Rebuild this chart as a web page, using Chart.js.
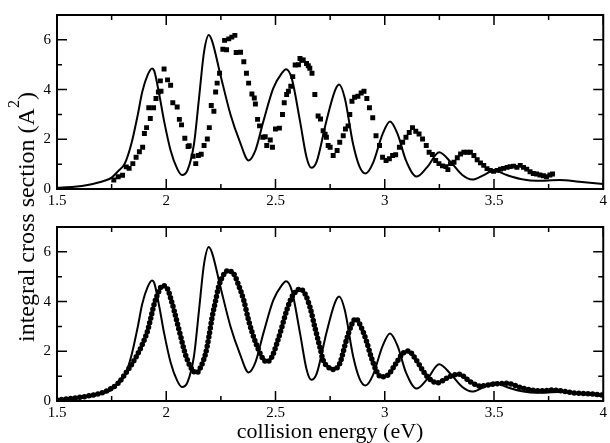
<!DOCTYPE html>
<html>
<head>
<meta charset="utf-8">
<script src="https://cdn.jsdelivr.net/npm/chart.js@4.4.1/dist/chart.umd.min.js"></script>
<style>
  html, body { margin: 0; padding: 0; background: #fff; }
  #wrap { position: relative; width: 610px; height: 443px; overflow: hidden; font-family: "Liberation Serif", "Times New Roman", serif; }
  #top { position: absolute; left: 0; top: 0; }
  #bottom { position: absolute; left: 0; top: 212px; }
  #ytitle { position: absolute; left: 26px; top: 217px; transform: translate(-50%, -50%) rotate(-90deg); white-space: nowrap; font-size: 24px; line-height: 24px; color: #000; }
  #ytitle sup { font-size: 16px; vertical-align: 15px; line-height: 0; }
</style>
</head>
<body>
<div id="wrap">
  <canvas id="top" width="610" height="212"></canvas>
  <canvas id="bottom" width="610" height="231"></canvas>
  <div id="ytitle">integral cross section (A<sup>2</sup>)</div>
</div>
<script>
// tick values
const xTicks = [1.5, 2, 2.5, 3, 3.5, 4];
const xMinor = [1.75, 2.25, 2.75, 3.25, 3.75];
const yTicks = [0, 2, 4, 6];
const yMinor = [1, 3, 5];

// solid curve (same in both panels)
const theoryE = [1.5, 1.58, 1.64, 1.72, 1.75, 1.78, 1.81, 1.84, 1.87, 1.89, 1.915, 1.935, 1.945, 1.968, 1.99,
  2.02, 2.05, 2.072, 2.097, 2.127, 2.15, 2.173, 2.195, 2.21, 2.248, 2.294, 2.335, 2.377, 2.408, 2.445,
  2.49, 2.529, 2.548, 2.574, 2.612, 2.642, 2.664, 2.688, 2.733, 2.771, 2.791, 2.817, 2.855, 2.885, 2.912,
  2.945, 2.99, 3.024, 3.059, 3.097, 3.145, 3.195, 3.249, 3.301, 3.355, 3.4, 3.453, 3.5, 3.559, 3.635,
  3.695, 3.8, 3.89, 4.0];
const theoryQ = [0.05, 0.09, 0.16, 0.34, 0.46, 0.72, 1.02, 1.81, 3.0, 3.9, 4.59, 4.85, 4.75, 3.8, 2.74,
  1.55, 0.82, 0.56, 0.75, 1.81, 3.66, 5.52, 6.2, 5.95, 4.59, 3.0, 1.95, 1.15, 1.55, 2.74,
  4.06, 4.66, 4.82, 4.46, 2.74, 1.28, 0.85, 1.09, 2.74, 3.93, 4.2, 3.66, 1.81, 0.89, 0.62,
  1.02, 2.21, 2.72, 2.21, 1.15, 0.5, 0.89, 1.48, 1.09, 0.56, 0.38, 0.56, 0.74, 0.56, 0.38,
  0.33, 0.36, 0.29, 0.2];

// squares, top panel
const expE = [1.76, 1.78, 1.8, 1.817, 1.83, 1.847, 1.862, 1.877, 1.892, 1.9, 1.91, 1.92, 1.927, 1.942, 1.953,
  1.964, 1.976, 1.973, 1.99, 2.006, 2.02, 2.03, 2.05, 2.06, 2.07, 2.085, 2.1, 2.105, 2.123, 2.135,
  2.147, 2.16, 2.173, 2.188, 2.197, 2.206, 2.218, 2.226, 2.233, 2.244, 2.259, 2.276, 2.267, 2.286, 2.3,
  2.314, 2.32, 2.34, 2.355, 2.367, 2.377, 2.392, 2.403, 2.408, 2.418, 2.427, 2.442, 2.453, 2.46, 2.476,
  2.486, 2.5, 2.518, 2.532, 2.54, 2.551, 2.559, 2.57, 2.579, 2.59, 2.605, 2.612, 2.62, 2.627, 2.642,
  2.65, 2.657, 2.667, 2.68, 2.695, 2.706, 2.718, 2.727, 2.733, 2.741, 2.75, 2.764, 2.782, 2.794, 2.81,
  2.82, 2.832, 2.84, 2.85, 2.862, 2.877, 2.892, 2.905, 2.918, 2.93, 2.945, 2.96, 2.976, 2.99, 3.006,
  3.021, 3.036, 3.05, 3.067, 3.082, 3.097, 3.112, 3.127, 3.142, 3.157, 3.173, 3.19, 3.203, 3.218, 3.233,
  3.248, 3.264, 3.28, 3.289, 3.301, 3.317, 3.332, 3.347, 3.362, 3.377, 3.392, 3.408, 3.423, 3.438, 3.453,
  3.468, 3.483, 3.498, 3.514, 3.53, 3.544, 3.56, 3.574, 3.59, 3.605, 3.62, 3.635, 3.65, 3.665, 3.68,
  3.695, 3.71, 3.726, 3.74, 3.756, 3.768];
const expQ = [0.36, 0.49, 0.55, 0.89, 0.83, 1.02, 1.28, 1.5, 1.68, 2.23, 2.47, 3.27, 2.84, 3.27, 3.64,
  3.9, 3.93, 4.35, 4.83, 4.39, 4.17, 3.47, 3.3, 2.8, 2.58, 2.04, 1.71, 1.74, 1.32, 1.02,
  1.35, 1.4, 1.75, 2.01, 2.47, 3.36, 3.13, 3.9, 4.26, 4.66, 5.62, 5.6, 5.98, 6.04, 6.11,
  6.18, 5.49, 5.5, 5.12, 4.66, 4.26, 3.82, 3.66, 3.42, 2.8, 2.54, 2.08, 2.1, 1.75, 1.97,
  1.68, 2.41, 2.45, 3.0, 3.47, 3.8, 3.93, 4.13, 4.52, 4.99, 5.0, 5.25, 5.18, 5.19, 5.05,
  4.96, 4.86, 4.66, 3.8, 2.94, 2.82, 2.34, 2.2, 2.08, 1.75, 1.68, 1.35, 1.55, 1.88, 2.14,
  2.41, 2.54, 3.0, 3.53, 3.69, 3.73, 3.86, 3.93, 3.64, 3.27, 2.87, 2.14, 1.75, 1.28, 1.15,
  1.22, 1.35, 1.38, 1.68, 1.88, 2.08, 2.27, 2.47, 2.32, 2.21, 2.01, 1.75, 1.48, 1.39, 1.15,
  1.02, 0.93, 0.9, 0.78, 1.02, 1.08, 1.26, 1.41, 1.48, 1.48, 1.48, 1.35, 1.18, 1.05, 0.95,
  0.82, 0.75, 0.71, 0.75, 0.8, 0.83, 0.87, 0.9, 0.92, 0.87, 0.95, 0.87, 0.8, 0.69, 0.62,
  0.6, 0.56, 0.53, 0.49, 0.56, 0.6];

// dotted curve, bottom panel
const calcE = [1.5, 1.642, 1.718, 1.779, 1.824, 1.862, 1.892, 1.915, 1.93, 1.945, 1.964, 1.983, 2.006, 2.021, 2.036,
  2.051, 2.067, 2.082, 2.097, 2.12, 2.139, 2.158, 2.18, 2.195, 2.21, 2.226, 2.241, 2.26, 2.282, 2.309,
  2.332, 2.355, 2.377, 2.4, 2.423, 2.442, 2.46, 2.483, 2.506, 2.529, 2.551, 2.574, 2.597, 2.612, 2.635,
  2.658, 2.68, 2.703, 2.718, 2.741, 2.764, 2.794, 2.824, 2.847, 2.867, 2.892, 2.915, 2.938, 2.96, 2.983,
  3.014, 3.051, 3.082, 3.109, 3.14, 3.195, 3.241, 3.294, 3.34, 3.392, 3.438, 3.499, 3.559, 3.635, 3.71,
  3.771, 3.862, 3.953, 4.0];
const calcQ = [0.04, 0.2, 0.37, 0.71, 1.24, 1.77, 2.31, 2.84, 3.37, 3.91, 4.37, 4.64, 4.51, 4.11, 3.64,
  3.11, 2.57, 2.04, 1.64, 1.24, 1.13, 1.37, 1.91, 2.57, 3.37, 4.04, 4.64, 5.04, 5.24, 5.11,
  4.64, 4.04, 3.24, 2.57, 2.04, 1.71, 1.57, 1.77, 2.31, 2.97, 3.64, 4.17, 4.44, 4.51, 4.31,
  3.77, 2.97, 2.17, 1.64, 1.37, 1.27, 1.51, 2.44, 3.04, 3.31, 2.97, 2.44, 1.77, 1.24, 0.97,
  1.04, 1.51, 1.91, 2.01, 1.7, 0.97, 0.73, 0.97, 1.08, 0.77, 0.6, 0.68, 0.71, 0.51, 0.41,
  0.44, 0.33, 0.28, 0.24];

const pts = (xs, ys) => xs.map((x, i) => ({ x: x, y: ys[i] }));
const FONT = '"Liberation Serif", "Times New Roman", serif';

// frame and inward ticks on all four sides
const frameTicks = {
  id: 'frameTicks',
  afterDatasetsDraw(chart) {
    const { ctx, chartArea: a, scales: { x, y } } = chart;
    ctx.save();
    ctx.strokeStyle = '#000';
    ctx.lineWidth = 1.5;
    ctx.beginPath();
    const xt = (vals, len) => vals.forEach(v => {
      const p = x.getPixelForValue(v);
      ctx.moveTo(p, a.bottom); ctx.lineTo(p, a.bottom - len);
      ctx.moveTo(p, a.top); ctx.lineTo(p, a.top + len);
    });
    const yt = (vals, len) => vals.forEach(v => {
      const p = y.getPixelForValue(v);
      ctx.moveTo(a.left, p); ctx.lineTo(a.left + len, p);
      ctx.moveTo(a.right, p); ctx.lineTo(a.right - len, p);
    });
    xt(xTicks, 10); xt(xMinor, 5);
    yt(yTicks, 10); yt(yMinor, 5);
    ctx.stroke();
    ctx.lineWidth = 2;
    ctx.strokeRect(a.left, a.top, a.width, a.height);
    ctx.restore();
  }
};

function makePanel(id, datasets, padTop, axisH, xTitle) {
  return new Chart(document.getElementById(id), {
    type: 'line',
    data: { datasets: datasets },
    options: {
      responsive: false,
      animation: false,
      layout: { padding: { top: padTop, right: 3, left: 0, bottom: 0 } },
      plugins: { legend: { display: false }, tooltip: { enabled: false } },
      scales: {
        x: {
          type: 'linear', min: 1.5, max: 4,
          grid: { display: false, drawTicks: false },
          border: { display: false },
          afterBuildTicks: s => { s.ticks = xTicks.map(v => ({ value: v })); },
          afterFit: s => { s.height = axisH; },
          ticks: {
            autoSkip: false, maxRotation: 0, padding: 3, color: '#000',
            font: { family: FONT, size: 15 },
            callback: v => String(v)
          },
          title: xTitle ? { display: true, text: xTitle, color: '#000', padding: 0, font: { family: FONT, size: 22, lineHeight: 1.0 } } : { display: false }
        },
        y: {
          min: 0, max: 7,
          grid: { display: false, drawTicks: false },
          border: { display: false },
          afterBuildTicks: s => { s.ticks = yTicks.map(v => ({ value: v })); },
          afterFit: s => { s.width = 57; },
          ticks: { padding: 6, color: '#000', font: { family: FONT, size: 15 }, callback: v => String(v) }
        }
      }
    },
    plugins: [frameTicks]
  });
}

const theoryLine = () => ({
  data: pts(theoryE, theoryQ),
  borderColor: '#000', borderWidth: 2, pointRadius: 0,
  cubicInterpolationMode: 'monotone', fill: false
});

makePanel('top', [
  theoryLine(),
  {
    data: pts(expE, expQ), showLine: false,
    pointStyle: 'rect', pointRadius: 3.5, pointBorderWidth: 0,
    pointBackgroundColor: '#000', borderColor: '#000'
  }
], 14, 23, null);

makePanel('bottom', [
  theoryLine(),
  {
    data: pts(calcE, calcQ), pointRadius: 0,
    borderColor: '#000', borderWidth: 5.5, borderDash: [0, 4.6], borderCapStyle: 'round',
    cubicInterpolationMode: 'monotone', fill: false
  }
], 13, 42, 'collision energy (eV)');
</script>
</body>
</html>
